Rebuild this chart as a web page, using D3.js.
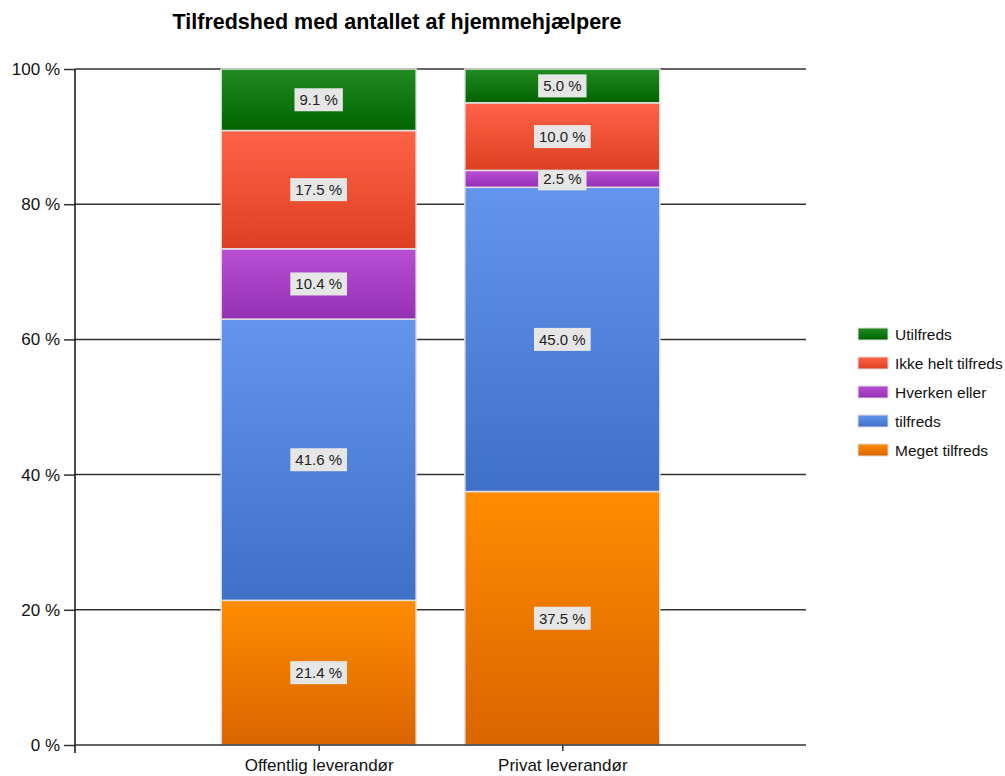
<!DOCTYPE html>
<html>
<head>
<meta charset="utf-8">
<script src="https://cdn.jsdelivr.net/npm/d3@7"></script>
<style>
  body { margin: 0; background: #fff; }
  text { font-family: "Liberation Sans", Arial, sans-serif; }
</style>
</head>
<body>
<div id="chart"></div>
<script>
const categories = ["Offentlig leverandør", "Privat leverandør"];
// stacked from bottom to top
const seriesNames = ["Meget tilfreds", "tilfreds", "Hverken eller", "Ikke helt tilfreds", "Utilfreds"];
const meget = [21.4, 37.5];
const tilfreds = [41.6, 45.0];
const hverken = [10.4, 2.5];
const ikkeHelt = [17.5, 10.0];
const utilfreds = [9.1, 5.0];
const yTicks = [0, 20, 40, 60, 80, 100];

const seriesValues = [meget, tilfreds, hverken, ikkeHelt, utilfreds];
const seriesColors = [
    ["#ff8c00", "#d96500"],
    ["#6495ed", "#3f6fc6"],
    ["#b84fd4", "#9530b4"],
    ["#ff6347", "#dd3f22"],
    ["#228b22", "#006400"]
];

const width = 1005, height = 776;
const margin = { top: 69, right: 199, bottom: 31, left: 75 };
const innerW = width - margin.left - margin.right;
const innerH = height - margin.top - margin.bottom;

const svg = d3.select("#chart").append("svg")
    .attr("width", width)
    .attr("height", height);

const defs = svg.append("defs");
seriesColors.forEach((c, i) => {
    const g = defs.append("linearGradient")
        .attr("id", "grad" + i)
        .attr("x1", 0).attr("y1", 0).attr("x2", 0).attr("y2", 1);
    g.append("stop").attr("offset", "0%").attr("stop-color", c[0]);
    g.append("stop").attr("offset", "100%").attr("stop-color", c[1]);
});

// Title
svg.append("text")
    .attr("x", 397)
    .attr("y", 29)
    .attr("text-anchor", "middle")
    .style("font-size", "21.5px")
    .style("font-weight", "bold")
    .style("fill", "#000")
    .text("Tilfredshed med antallet af hjemmehjælpere");

const g = svg.append("g")
    .attr("transform", `translate(${margin.left},${margin.top})`);

const x = d3.scaleLinear().domain([0, 3]).range([0, innerW]);
const y = d3.scaleLinear().domain([0, 100]).range([innerH, 0]);
const barW = (x(1) - x(0)) * 0.8;

// Gridlines
g.append("g")
    .selectAll("line")
    .data(yTicks.filter(t => t > 0))
    .enter()
    .append("line")
    .attr("x1", 0)
    .attr("x2", innerW)
    .attr("y1", d => y(d))
    .attr("y2", d => y(d))
    .attr("stroke", "#333")
    .attr("stroke-width", 1.5);

// Y axis
const yAxis = g.append("g")
    .call(d3.axisLeft(y).tickValues(yTicks).tickFormat(d => d + " %").tickSize(11).tickPadding(4));
yAxis.select(".domain").remove();
yAxis.selectAll(".tick line").attr("stroke", "#333").attr("stroke-width", 1.5);
yAxis.selectAll("text").style("font-size", "17px").style("fill", "#111")
    .style("font-family", "'Liberation Sans', Arial, sans-serif");
g.append("line")
    .attr("x1", 0).attr("x2", 0)
    .attr("y1", 0).attr("y2", innerH + 8)
    .attr("stroke", "#111").attr("stroke-width", 1.5);

// Stack
const rows = categories.map((c, i) => {
    const r = { cat: c, idx: i + 1 };
    seriesNames.forEach((s, j) => r[s] = seriesValues[j][i]);
    return r;
});
const stacked = d3.stack().keys(seriesNames)(rows);

const layers = g.selectAll(".layer")
    .data(stacked)
    .enter()
    .append("g")
    .attr("class", "layer")
    .attr("fill", (d, i) => `url(#grad${i})`);

layers.selectAll("rect")
    .data(d => d)
    .enter()
    .append("rect")
    .attr("x", d => x(d.data.idx) - barW / 2)
    .attr("y", d => y(d[1]))
    .attr("width", barW)
    .attr("height", d => y(d[0]) - y(d[1]))
    .attr("stroke", "#e0e0e0")
    .attr("stroke-width", 1.5);

// X axis
const xAxis = g.append("g")
    .attr("transform", `translate(0,${innerH})`)
    .call(d3.axisBottom(x).tickValues([1, 2]).tickFormat(d => categories[d - 1]).tickSize(6).tickPadding(8));
xAxis.select(".domain").attr("stroke", "#333").attr("stroke-width", 1.5).attr("d", `M0,0H${innerW}`);
xAxis.selectAll(".tick line").attr("stroke", "#333").attr("stroke-width", 1.5);
xAxis.selectAll("text").style("font-size", "17px").style("fill", "#111")
    .style("font-family", "'Liberation Sans', Arial, sans-serif");

// Value labels
layers.each(function (layer) {
    const lg = d3.select(this);
    layer.forEach(d => {
        const val = d[1] - d[0];
        const cx = x(d.data.idx);
        const cy = (y(d[0]) + y(d[1])) / 2;
        const lbl = lg.append("g").attr("transform", `translate(${cx},${cy})`);
        const t = lbl.append("text")
            .attr("text-anchor", "middle")
            .attr("dy", "0.36em")
            .style("font-size", "15px")
            .style("fill", "#222")
            .text(val.toFixed(1) + " %");
        const w = t.node().getComputedTextLength() + 10;
        lbl.insert("rect", "text")
            .attr("x", -w / 2)
            .attr("y", -11.5)
            .attr("width", w)
            .attr("height", 23)
            .attr("fill", "#e6e6e6");
    });
});

// Legend
const legend = svg.append("g").attr("transform", "translate(858,328)");
const legendOrder = seriesNames.map((s, i) => i).reverse();
legendOrder.forEach((si, k) => {
    const row = legend.append("g").attr("transform", `translate(0,${k * 29})`);
    row.append("rect")
        .attr("width", 30).attr("height", 12)
        .attr("fill", `url(#grad${si})`)
        .attr("stroke", "#ddd");
    row.append("text")
        .attr("x", 37)
        .attr("y", 12)
        .style("font-size", "15.5px")
        .style("fill", "#111")
        .text(seriesNames[si]);
});
</script>
</body>
</html>
